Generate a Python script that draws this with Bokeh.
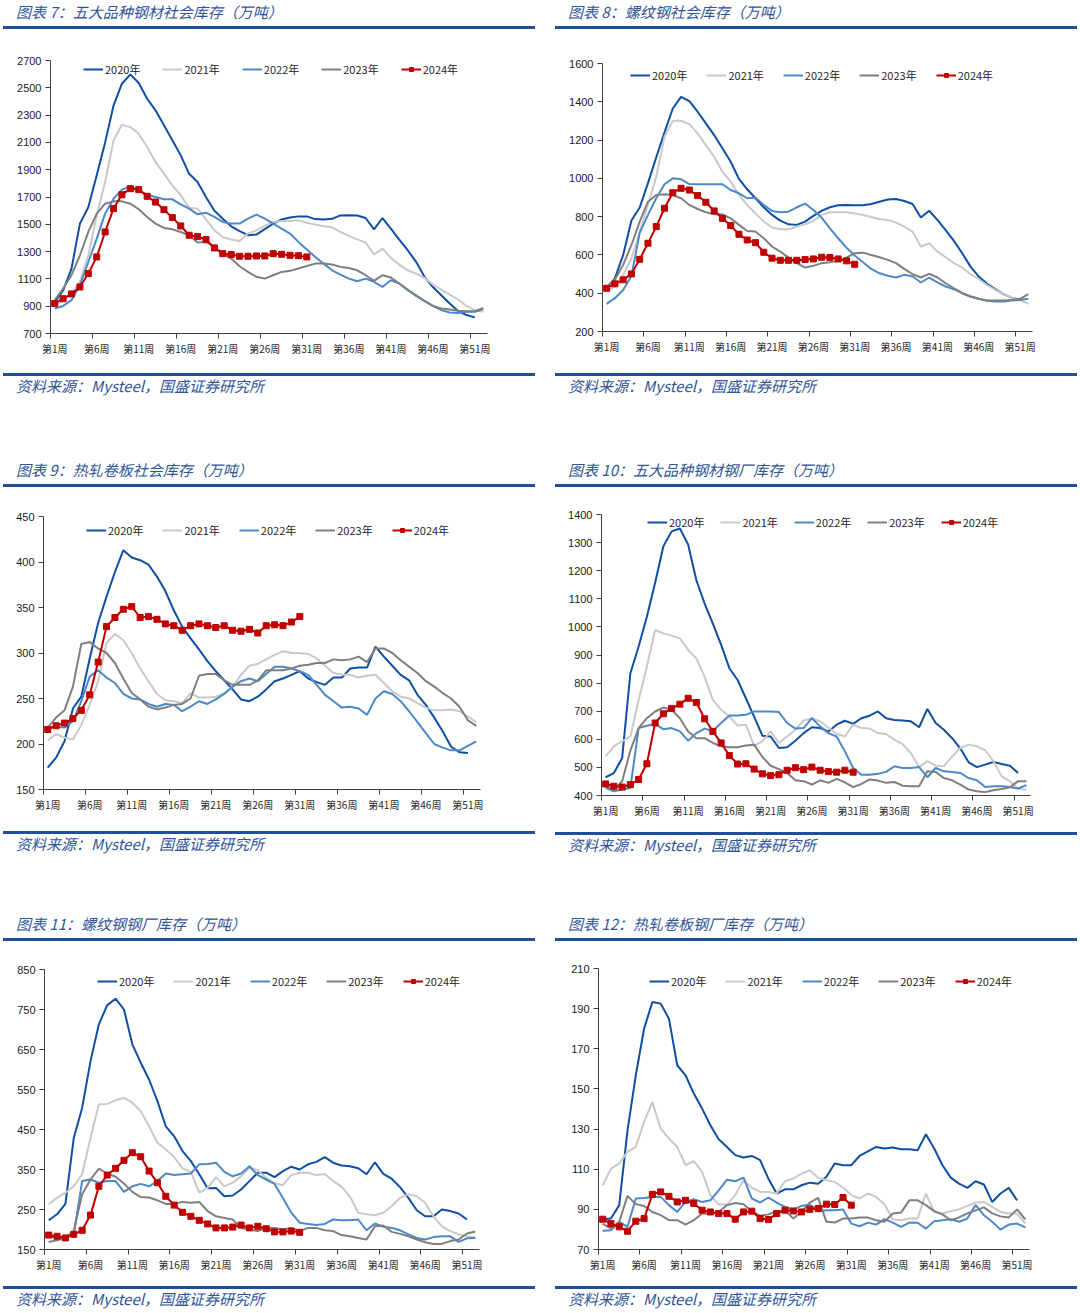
from bokeh.plotting import figure
from bokeh.models import Div, FixedTicker, LinearAxis, Range1d, Legend, LegendItem, Spacer
from bokeh.layouts import column, row
from bokeh.embed import file_html
from bokeh.resources import INLINE

WEEKS = list(range(1, 53))
YEARS = ["2020年", "2021年", "2022年", "2023年", "2024年"]
COLORS = ["#0f4fa3", "#c9c9c9", "#4d88c9", "#7f7f7f", "#c00000"]
XTICK_POS = [1, 6, 11, 16, 21, 26, 31, 36, 41, 46, 51]
XTICK_LABELS = ["第1周", "第6周", "第11周", "第16周", "第21周", "第26周",
                "第31周", "第36周", "第41周", "第46周", "第51周"]
SOURCE = "资料来源：Mysteel，国盛证券研究所"

# ---------------- 图表 7 ----------------
p7_2020 = [930, 1015, 1175, 1505, 1625, 1860, 2100, 2370, 2530, 2598, 2535, 2420, 2335, 2225, 2115, 2005, 1870, 1810,
           1700, 1600, 1540, 1485, 1450, 1420, 1425, 1465, 1505, 1535, 1550, 1558, 1558, 1538, 1535, 1540, 1565, 1566,
           1565, 1546, 1463, 1546, 1468, 1388, 1310, 1225, 1115, 1040, 980, 920, 865, 835, 818]
p7_2021 = [907, 944, 993, 1078, 1273, 1566, 1810, 2115, 2229, 2212, 2163, 2066, 1956, 1871, 1785, 1712, 1619, 1615,
           1537, 1456, 1407, 1388, 1378, 1432, 1456, 1488, 1517, 1524, 1524, 1529, 1512, 1498, 1485, 1478, 1444, 1415,
           1390, 1366, 1280, 1322, 1254, 1205, 1163, 1139, 1107, 1059, 1022, 985, 949, 902, 871, 859]
p7_2022 = [883, 902, 944, 1054, 1224, 1395, 1578, 1688, 1754, 1780, 1749, 1717, 1700, 1683, 1683, 1646, 1615, 1573,
           1585, 1554, 1517, 1505, 1505, 1541, 1571, 1541, 1505, 1468, 1432, 1371, 1315, 1261, 1212, 1163, 1132, 1102,
           1083, 1102, 1078, 1041, 1090, 1066, 1017, 980, 939, 902, 871, 854, 851, 859, 859, 880]
p7_2023 = [945, 1029, 1127, 1273, 1444, 1578, 1651, 1668, 1668, 1651, 1610, 1554, 1505, 1473, 1463, 1444, 1420, 1366,
           1371, 1334, 1285, 1249, 1193, 1151, 1115, 1102, 1127, 1151, 1159, 1176, 1195, 1212, 1212, 1205, 1188, 1180,
           1163, 1127, 1085, 1127, 1110, 1066, 1022, 976, 937, 902, 883, 876, 866, 863, 863, 888]
p7_2024 = [920, 955, 990, 1041, 1139, 1261, 1444, 1615, 1717, 1761, 1754, 1705, 1663, 1607, 1549, 1488, 1420, 1410,
           1388, 1327, 1285, 1278, 1266, 1266, 1268, 1268, 1285, 1280, 1273, 1270, 1261]

# ---------------- 图表 8 ----------------
p8_2020 = [426, 478, 600, 780, 848, 975, 1110, 1240, 1365, 1426, 1403, 1348, 1287, 1226, 1157, 1087, 997, 943, 896,
           849, 809, 779, 760, 757, 774, 804, 830, 849, 859, 861, 859, 859, 866, 878, 890, 892, 882, 866, 795, 831,
           783, 730, 673, 609, 539, 487, 449, 421, 395, 377, 365]
p8_2021 = [409, 435, 496, 583, 722, 861, 1009, 1217, 1301, 1301, 1283, 1235, 1174, 1113, 1035, 983, 913, 861, 817,
           774, 743, 734, 734, 748, 760, 777, 809, 823, 823, 823, 817, 809, 798, 788, 783, 769, 748, 722, 644, 661,
           617, 588, 557, 534, 499, 473, 443, 417, 397, 377, 364, 345]
p8_2022 = [344, 374, 417, 490, 715, 809, 896, 969, 1000, 995, 970, 969, 969, 969, 969, 939, 922, 896, 899, 861, 830,
           823, 826, 849, 868, 835, 795, 739, 687, 638, 597, 562, 527, 504, 491, 482, 496, 487, 456, 482, 457, 435,
           421, 400, 383, 371, 360, 357, 357, 362, 365, 371]
p8_2023 = [426, 470, 548, 652, 774, 878, 913, 917, 913, 896, 861, 840, 823, 812, 812, 791, 757, 725, 722, 687, 644,
           617, 586, 557, 534, 543, 557, 562, 569, 586, 609, 612, 600, 588, 574, 557, 527, 499, 482, 501, 482, 452,
           426, 400, 383, 371, 362, 362, 362, 365, 371, 395]
p8_2024 = [426, 449, 470, 501, 577, 661, 748, 844, 925, 948, 939, 910, 875, 830, 791, 753, 708, 678, 664, 614, 583,
           572, 572, 572, 576, 579, 588, 586, 579, 569, 551]

# ---------------- 图表 9 ----------------
p9_2020 = [174, 185, 203, 239, 252, 294, 333, 362, 389, 413, 405, 402, 397, 384, 368, 347, 329, 316, 304, 291, 280,
           270, 260, 249, 247, 252, 260, 269, 272, 276, 280, 272, 268, 265, 273, 273, 283, 284, 284, 307, 296, 286,
           276, 270, 254, 243, 229, 214, 197, 191, 190]
p9_2021 = [204, 211, 207, 205, 221, 243, 269, 311, 321, 314, 300, 283, 269, 255, 248, 247, 245, 256, 251, 251, 252,
           256, 263, 276, 286, 288, 293, 298, 302, 300, 300, 299, 294, 286, 278, 276, 276, 273, 275, 276, 267, 258,
           252, 250, 245, 240, 237, 237, 238, 236, 230, 224]
p9_2022 = [218, 219, 218, 225, 247, 274, 281, 273, 267, 255, 250, 249, 244, 241, 244, 243, 236, 241, 247, 244, 249,
           255, 263, 269, 272, 269, 277, 285, 285, 283, 280, 276, 265, 254, 247, 240, 241, 239, 232, 250, 258, 255,
           247, 236, 224, 212, 200, 196, 193, 193, 198, 203]
p9_2023 = [218, 229, 237, 263, 310, 312, 305, 300, 289, 272, 256, 249, 241, 238, 240, 243, 244, 250, 275, 277, 277,
           270, 265, 265, 265, 270, 281, 281, 281, 283, 286, 287, 289, 289, 293, 292, 293, 296, 290, 305, 305, 300,
           292, 285, 278, 269, 263, 256, 250, 241, 226, 220]
p9_2024 = [216, 220, 223, 228, 237, 254, 290, 329, 339, 348, 351, 339, 340, 337, 332, 330, 325, 330, 332, 330, 328,
           330, 325, 324, 326, 322, 330, 331, 330, 334, 340]

# ---------------- 图表 10 ----------------
p10_2020 = [465, 480, 533, 835, 930, 1036, 1157, 1287, 1340, 1350, 1293, 1166, 1083, 1012, 936, 853, 811, 746, 681,
            613, 610, 569, 572, 595, 622, 643, 640, 628, 652, 666, 655, 675, 684, 699, 675, 669, 667, 664, 643, 708,
            658, 634, 604, 567, 518, 501, 510, 519, 512, 506, 480]
p10_2021 = [539, 575, 593, 610, 740, 859, 989, 977, 969, 959, 918, 888, 823, 740, 705, 681, 649, 652, 577, 593, 628,
            587, 610, 634, 667, 675, 664, 642, 620, 610, 652, 640, 638, 622, 619, 599, 583, 551, 501, 522, 506, 504,
            539, 569, 581, 575, 561, 522, 468, 451, 425, 420]
p10_2022 = [427, 415, 421, 427, 640, 648, 654, 636, 640, 628, 595, 622, 638, 630, 658, 685, 685, 687, 699, 699, 699,
            697, 658, 638, 640, 675, 646, 622, 610, 557, 498, 474, 474, 477, 484, 504, 498, 498, 501, 465, 498, 486,
            484, 480, 462, 454, 430, 433, 433, 430, 425, 437]
p10_2023 = [433, 421, 450, 560, 640, 675, 699, 713, 705, 675, 628, 604, 604, 587, 575, 572, 572, 578, 581, 537, 506,
            494, 480, 454, 451, 439, 454, 445, 459, 447, 430, 441, 457, 453, 445, 448, 435, 433, 433, 486, 484, 462,
            454, 439, 421, 415, 412, 419, 423, 429, 451, 451]
p10_2024 = [441, 433, 430, 439, 457, 513, 658, 691, 710, 725, 746, 731, 673, 628, 587, 542, 512, 513, 494, 477, 471,
            474, 490, 499, 492, 501, 490, 485, 483, 490, 483]

# ---------------- 图表 11 ----------------
p11_2020 = [223, 238, 264, 429, 504, 621, 713, 761, 777, 750, 663, 617, 575, 521, 458, 433, 396, 371, 338, 303, 304,
            283, 285, 300, 321, 342, 342, 331, 346, 357, 350, 363, 369, 381, 367, 360, 358, 353, 338, 368, 339, 327,
            306, 279, 248, 233, 233, 250, 246, 240, 225]
p11_2021 = [263, 279, 292, 308, 338, 429, 513, 514, 523, 529, 517, 496, 458, 417, 400, 381, 353, 344, 292, 304, 331,
            308, 317, 333, 354, 348, 329, 315, 311, 336, 342, 342, 336, 339, 321, 307, 283, 242, 238, 236, 242, 258,
            279, 288, 283, 267, 233, 208, 196, 188, 183, 180]
p11_2022 = [183, 179, 183, 188, 321, 325, 317, 321, 321, 294, 308, 314, 308, 321, 340, 336, 338, 340, 363, 364, 367,
            344, 333, 340, 358, 336, 325, 314, 279, 242, 217, 214, 211, 214, 225, 223, 223, 225, 198, 215, 207, 204,
            198, 188, 179, 175, 181, 183, 183, 169, 178, 179]
p11_2023 = [169, 173, 179, 196, 288, 325, 352, 340, 332, 315, 294, 281, 280, 273, 264, 264, 269, 267, 269, 246, 233,
            229, 225, 204, 200, 196, 204, 204, 200, 204, 196, 204, 204, 198, 196, 186, 183, 179, 175, 208, 210, 194,
            189, 183, 175, 168, 164, 164, 171, 175, 190, 195]
p11_2024 = [186, 183, 179, 188, 198, 236, 308, 336, 353, 373, 392, 382, 346, 317, 283, 261, 243, 233, 223, 214, 204,
            204, 206, 211, 204, 208, 202, 194, 194, 196, 193]

# ---------------- 图表 12 ----------------
p12_2020 = [85.1, 85.4, 92.1, 129.4, 156.8, 180, 193.3, 192.5, 185, 161.8, 156.8, 147.7, 140.2, 131.9, 124.9, 121.1,
            117, 115.8, 116.6, 114.5, 105.3, 97.9, 100, 100, 102, 103.3, 102.8, 106.2, 112.8, 112, 112, 116.6, 118.9,
            121.1, 120.3, 120.8, 119.9, 119.9, 119.4, 127.4, 120.3, 112, 105.8, 102.8, 100.7, 104, 102.4, 93.7, 97.9,
            100.7, 94.5]
p12_2021 = [102, 110.3, 112.8, 118.6, 121.1, 133.6, 143.5, 130.2, 125.3, 121.1, 112, 114.1, 108.7, 97.1, 92.4, 92.4,
            97.1, 104.5, 100.7, 98.7, 98.7, 97.9, 104, 105.3, 107.8, 109.5, 105.8, 104.5, 103.7, 100.9, 97.1, 95.4,
            97.9, 96.2, 92.4, 85.1, 84.6, 85.4, 85.4, 97.9, 88.7, 87.9, 89.1, 90, 91.7, 93.4, 93.7, 91.2, 88.7, 87.9,
            87.9, 83]
p12_2022 = [79.3, 79.6, 83.8, 81.3, 95.4, 95.7, 96.2, 96.2, 92.1, 88.7, 93.7, 95, 93.7, 94.5, 99.5, 104.8, 104,
            105.8, 95.4, 93.4, 95.9, 93.4, 91.2, 89.9, 91.7, 92.4, 89.1, 89.6, 89.6, 89.9, 82.9, 81.6, 83.4, 82.4,
            85.1, 83.4, 81.3, 83.4, 83.3, 80.4, 84.1, 84.6, 85.1, 83.8, 85.4, 92.1, 87.1, 83.8, 79.9, 82.4, 82.9, 81]
p12_2023 = [82.9, 80.4, 83.8, 96.7, 92.6, 91.7, 88.7, 87.1, 84.6, 84.6, 82.4, 84.6, 87.9, 87.9, 88.7, 92.1, 93.2,
            92.6, 89.1, 86.8, 87.5, 89.1, 89.6, 85.4, 88.7, 93.4, 95.7, 83.8, 83.4, 85.4, 85.4, 85.9, 85.9, 84.6, 83.8,
            87.9, 88.4, 94.5, 94.5, 92.1, 89.1, 87.5, 84.6, 86, 88, 89.5, 91, 88, 86.5, 86, 90, 85]
p12_2024 = [85.1, 82.9, 81.3, 79.1, 84.1, 85.4, 97.5, 98.7, 96.5, 93.7, 94.5, 92.9, 89.6, 88.7, 87.9, 87.9, 85.1,
            88.7, 89.1, 85.4, 84.9, 87.9, 89.6, 89.2, 88.7, 90, 90.4, 92.6, 92.4, 95.9, 92.1]

TITLES = {
    7: "图表 7：五大品种钢材社会库存（万吨）",
    8: "图表 8：螺纹钢社会库存（万吨）",
    9: "图表 9：热轧卷板社会库存（万吨）",
    10: "图表 10：五大品种钢材钢厂库存（万吨）",
    11: "图表 11：螺纹钢钢厂库存（万吨）",
    12: "图表 12：热轧卷板钢厂库存（万吨）",
}

BLUE = "#1f4e9c"
TXT = "#2f5597"
CJK = "Noto Sans CJK SC"


def panel(num, series, ymin, ymax, ystep, W, left, fw, top, fh, bottom, leg_x, leg_y, pitch):
    H = top + fh + bottom
    p = figure(width=W, height=H, x_range=Range1d(0.5, 52.5), y_range=Range1d(ymin, ymax),
               output_backend="svg", toolbar_location=None,
               min_border_left=left, min_border_right=W - left - fw,
               min_border_top=top, min_border_bottom=bottom)
    p.xgrid.visible = False
    p.ygrid.visible = False
    p.outline_line_color = None
    p.background_fill_color = "white"
    p.border_fill_color = "white"

    # x axis: tick marks at category boundaries
    xa = p.xaxis[0]
    xa.ticker = FixedTicker(ticks=[0.5 + 5 * k for k in range(11)])
    xa.major_label_overrides = {0.5 + 5 * k: " " for k in range(11)}
    xa.major_label_text_font_size = "1px"
    xa.major_label_standoff = 0
    xa.major_tick_out = 5
    xa.major_tick_in = 0
    xa.minor_tick_out = 0
    xa.minor_tick_in = 0
    xa.axis_line_color = "#404040"
    xa.major_tick_line_color = "#404040"

    # x axis: week labels at category centres
    lab = LinearAxis(ticker=FixedTicker(ticks=XTICK_POS),
                     major_label_overrides={k: v for k, v in zip(XTICK_POS, XTICK_LABELS)},
                     axis_line_color=None, major_tick_line_color=None, minor_tick_line_color=None,
                     major_label_standoff=-8, major_label_text_font=CJK,
                     major_label_text_font_size="10px", major_label_text_color="#262626")
    p.add_layout(lab, "below")

    ya = p.yaxis[0]
    ya.ticker = FixedTicker(ticks=list(range(ymin, ymax + 1, ystep)))
    ya.major_tick_out = 5
    ya.major_tick_in = 0
    ya.minor_tick_out = 0
    ya.minor_tick_in = 0
    ya.axis_line_color = "#404040"
    ya.major_tick_line_color = "#404040"
    ya.major_label_text_font = "Liberation Sans"
    ya.major_label_text_font_size = "11px"
    ya.major_label_text_color = "#1a1a1a"
    ya.major_label_standoff = 4

    items = []
    for i, vals in enumerate(series):
        xs = WEEKS[:len(vals)]
        r = p.line(xs, vals, line_color=COLORS[i], line_width=2)
        rs = [r]
        if i == 4:
            s = p.scatter(xs, vals, marker="square", size=6, fill_color=COLORS[i], line_color=COLORS[i])
            rs.append(s)
        items.append(LegendItem(label=YEARS[i], renderers=rs))

    leg = Legend(items=items, orientation="horizontal", location=(leg_x, fh - leg_y - 7),
                 padding=0, margin=0, spacing=pitch - 58, glyph_width=20, glyph_height=10,
                 label_standoff=2, label_text_font=CJK, label_text_font_size="11px",
                 label_text_color="#262626", background_fill_alpha=0, border_line_color=None,
                 label_height=14)
    p.add_layout(leg)

    title = Div(text=f'<div style="width:{W}px;height:29px;border-bottom:3px solid {BLUE};'
                     f'font-family:{CJK};font-style:italic;font-size:15px;color:{TXT};'
                     f'line-height:24px;white-space:nowrap">'
                     f'<span style="padding-left:13px">{TITLES[num]}</span></div>',
                width=W, height=32, margin=0)
    src = Div(text=f'<div style="width:{W}px;height:21px;border-top:3px solid {BLUE};'
                   f'font-family:{CJK};font-style:italic;font-size:15px;color:{TXT};'
                   f'line-height:20px;white-space:nowrap">'
                   f'<span style="padding-left:13px">{SOURCE}</span></div>',
              width=W, height=24, margin=0)
    return column(title, p, src, spacing=0)


WL = 532
WR = 522

c7 = panel(7, [p7_2020, p7_2021, p7_2022, p7_2023, p7_2024], 700, 2700, 200, WL, 47, 437, 28, 273, 40, 33, 10, 80)
c8 = panel(8, [p8_2020, p8_2021, p8_2022, p8_2023, p8_2024], 200, 1600, 200, WR, 47, 430, 31, 268, 42, 28, 13, 77)
c9 = panel(9, [p9_2020, p9_2021, p9_2022, p9_2023, p9_2024], 150, 450, 50, WL, 40, 437, 26, 273, 42, 43, 15, 77)
c10 = panel(10, [p10_2020, p10_2021, p10_2022, p10_2023, p10_2024], 400, 1400, 100, WR, 46, 429, 24, 281, 37, 46, 9, 74)
c11 = panel(11, [p11_2020, p11_2021, p11_2022, p11_2023, p11_2024], 150, 850, 100, WL, 41, 435, 25, 280, 37, 53, 13, 77)
c12 = panel(12, [p12_2020, p12_2021, p12_2022, p12_2023, p12_2024], 70, 210, 20, WR, 43, 431, 24, 281, 37, 51, 14, 77)

r1 = row(Spacer(width=3, height=10), c7, Spacer(width=20, height=10), c8)
r2 = row(Spacer(width=3, height=10), c9, Spacer(width=20, height=10), c10)
r3 = row(Spacer(width=3, height=10), c11, Spacer(width=20, height=10), c12)
page = column(r1, Spacer(width=10, height=61), r2, Spacer(width=10, height=56), r3)

open("out.html", "w").write(file_html(page, INLINE))
